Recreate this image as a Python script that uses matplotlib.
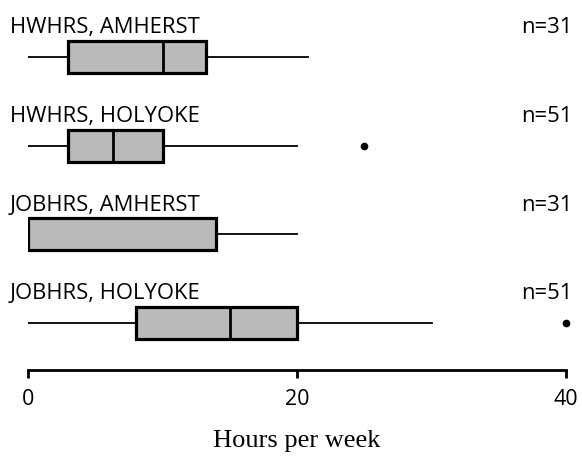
"""Box plots of weekly homework and job hours, Amherst vs Holyoke."""
import matplotlib
matplotlib.use("Agg")
import matplotlib.pyplot as plt

# data (hours per week)
labels = ["HWHRS, AMHERST", "HWHRS, HOLYOKE", "JOBHRS, AMHERST", "JOBHRS, HOLYOKE"]
counts = [31, 51, 31, 51]
whislo = [0, 0, 0, 0]
q1 = [3, 3, 0, 8]
med = [10, 6.3, 0, 15]
q3 = [13.2, 10, 14, 20]
whishi = [20.8, 20, 20, 30]
fliers = [[], [25], [], [40]]
xticks = [0, 20, 40]

SANS = ["Open Sans", "DejaVu Sans"]
SERIF = ["Liberation Serif", "DejaVu Serif"]
BOXGRAY = "#bababa"

fig = plt.figure(figsize=(5.82, 4.61), dpi=100)
ax = fig.add_axes([28 / 582, 91 / 461, 538 / 582, 370 / 461])

stats = []
for i in range(len(labels)):
    stats.append(dict(whislo=whislo[i], q1=q1[i], med=med[i], q3=q3[i],
                      whishi=whishi[i], fliers=fliers[i]))

pos = list(range(len(labels)))
parts = ax.bxp(stats, positions=pos, vert=False, widths=0.36, patch_artist=True,
               showcaps=False,
               boxprops=dict(facecolor=BOXGRAY, edgecolor="black", linewidth=2.3),
               medianprops=dict(color="black", linewidth=2),
               whiskerprops=dict(color="black", linewidth=1.3),
               flierprops=dict(marker="o", markersize=4.5, markerfacecolor="black",
                               markeredgecolor="black"))
for f in parts["fliers"]:
    f.set_clip_on(False)

for i, (lab, n) in enumerate(zip(labels, counts)):
    ax.text(-1.35, i - 0.33, lab, ha="left", va="center", fontsize=15.8,
            family=SANS, clip_on=False)
    ax.text(40.45, i - 0.33, f"n={n}", ha="right", va="center", fontsize=15.8,
            family=SANS, clip_on=False)

ax.set_xlim(0, 40)
ax.set_ylim(3.53, -0.643)
ax.set_yticks([])
for sp in ["top", "left", "right"]:
    ax.spines[sp].set_visible(False)
ax.spines["bottom"].set_linewidth(2)
ax.set_xticks(xticks)
ax.tick_params(axis="x", direction="out", length=6, width=2, pad=8,
               labelsize=15.5)
for t in ax.get_xticklabels():
    t.set_family(SANS)
ax.set_xlabel("Hours per week", fontsize=19, family=SERIF, labelpad=14)

fig.savefig("out.png", dpi=100, facecolor="white")
